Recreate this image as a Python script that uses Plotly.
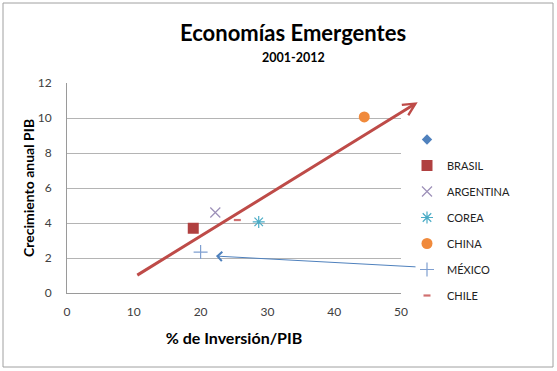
import plotly.graph_objects as go

series = ["", "BRASIL", "ARGENTINA", "COREA", "CHINA", "MÉXICO", "CHILE"]
inversion = [None, 18.9, 22.2, 28.7, 44.5, 20.0, 25.5]
crecimiento = [None, 3.7, 4.6, 4.06, 10.06, 2.34, 4.17]
symbols = ["diamond", "square", "x-thin-open", "asterisk-open", "circle", "cross-thin-open", "line-ew-open"]
colors = ["#4F81BD", "#B04040", "#9C8FB8", "#4BACC6", "#F08A3C", "#7F9FD0", "#D07070"]
sizes = [8, 11, 10, 10, 11, 10, 5]
line_widths = [0, 0, 1.2, 1.2, 0, 1.2, 2.2]

# trend arrow (red) and pointer arrow (blue)
trend_start = (10.3, 0.97)
trend_end = (52.5, 10.9)
pointer_start = (52.4, 1.49)
pointer_end = (22.3, 2.11)

fig = go.Figure()
for name, x, y, s, c, sz, lw in zip(series, inversion, crecimiento, symbols, colors, sizes, line_widths):
    marker = dict(symbol=s, size=sz, color=c, line=dict(color=c, width=lw))
    fig.add_trace(go.Scatter(x=[x], y=[y], mode="markers", name=name if name else " ",
                             marker=marker, legendgroup=name or "blank", showlegend=True,
                             cliponaxis=False, hoverinfo="skip"))

fig.add_annotation(x=trend_end[0], y=trend_end[1], ax=trend_start[0], ay=trend_start[1],
                   xref="x", yref="y", axref="x", ayref="y", showarrow=True,
                   arrowhead=5, arrowsize=0.8, arrowwidth=3, arrowcolor="#BE4B48", text="")
fig.add_annotation(x=pointer_end[0], y=pointer_end[1], ax=pointer_start[0], ay=pointer_start[1],
                   xref="x", yref="y", axref="x", ayref="y", showarrow=True,
                   arrowhead=4, arrowsize=1.8, arrowwidth=1, arrowcolor="#4F81BD", text="")

# titles
fig.add_annotation(text="<b>Economías Emergentes</b>", xref="paper", yref="paper",
                   x=(293 - 67) / 334, y=(293 - 33) / 210, xanchor="center", yanchor="middle",
                   showarrow=False, font=dict(size=22, color="#000000", family="Lato"))
fig.add_annotation(text="<b>2001-2012</b>", xref="paper", yref="paper",
                   x=(293 - 67) / 334, y=(293 - 57) / 210, xanchor="center", yanchor="middle",
                   showarrow=False, font=dict(size=12.5, color="#000000", family="Lato"))
fig.add_annotation(text="<b>Crecimiento anual PIB</b>", xref="paper", yref="paper",
                   x=(28 - 67) / 334, y=0.5, xanchor="center", yanchor="middle", textangle=-90,
                   showarrow=False, font=dict(size=14, color="#000000", family="Lato"))

# outer border
fig.add_shape(type="rect", xref="paper", yref="paper",
              x0=(3 - 67) / 334, x1=(553 - 67) / 334, y0=(293 - 367) / 210, y1=(293 - 3) / 210,
              line=dict(color="#A0A0A0", width=1))

fig.update_layout(
    width=557, height=371,
    margin=dict(l=67, r=156, t=83, b=78, autoexpand=False),
    paper_bgcolor="white", plot_bgcolor="white",
    font=dict(family="Lato", color="#404040", size=12),
    showlegend=True,
    legend=dict(x=(407 - 67) / 334, y=(293 - 125) / 210, xanchor="left", yanchor="top",
                font=dict(size=11, color="#222222"), tracegroupgap=7,
                itemwidth=30, bgcolor="rgba(0,0,0,0)"),
    xaxis=dict(range=[0, 50], dtick=10, showgrid=False, zeroline=False,
               showline=True, linecolor="#9A9A9A", linewidth=1,
               ticks="outside", ticklen=8, tickcolor="rgba(0,0,0,0)",
               tickfont=dict(size=12, color="#404040"),
               title=dict(text="<b>% de Inversión/PIB</b>", font=dict(size=16, color="#000000"), standoff=14)),
    yaxis=dict(range=[0, 12], dtick=2, showgrid=True, gridcolor="#B4B4B4", gridwidth=1,
               zeroline=False, showline=True, linecolor="#9A9A9A", linewidth=1,
               ticks="outside", ticklen=12, tickcolor="rgba(0,0,0,0)",
               tickfont=dict(size=12, color="#404040")),
)

fig.write_html("out.html", config={"displayModeBar": False},
               post_script="document.body.style.margin='0';")
